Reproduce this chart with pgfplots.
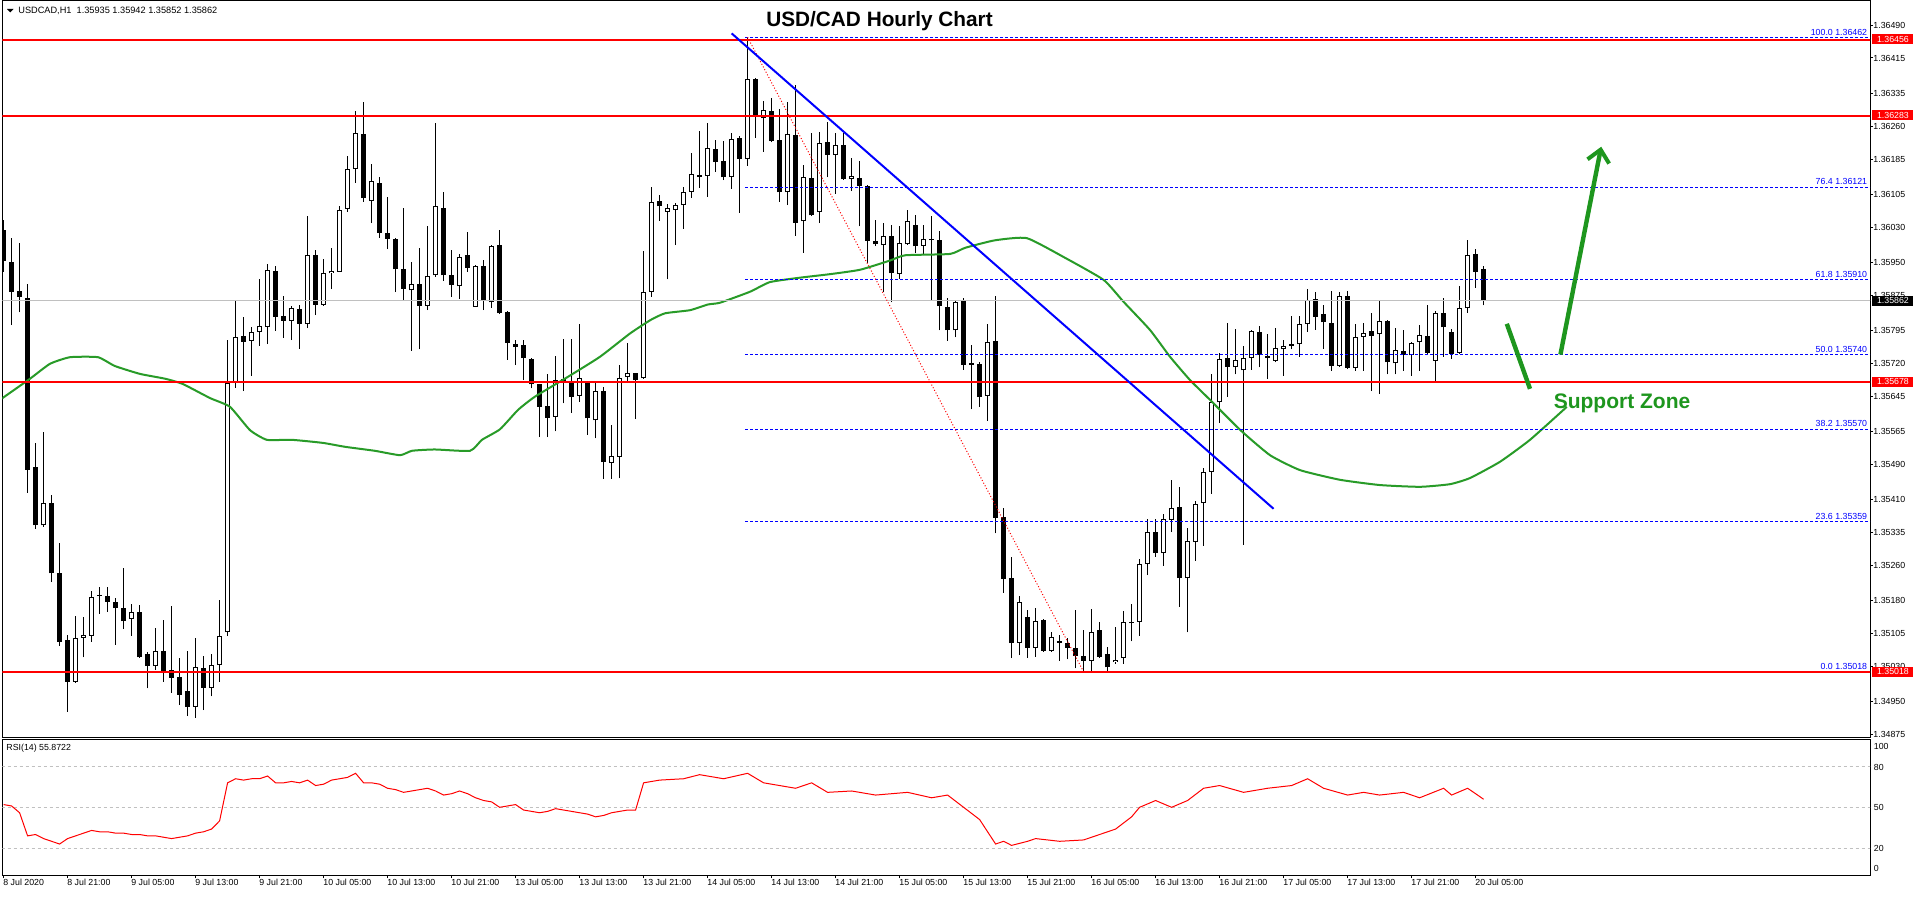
\documentclass[border=0pt]{standalone}
\usepackage{pgfplots}
\pgfplotsset{compat=1.18}
\usepackage{pgfplotstable}
\usepackage{fontspec}
\setmainfont{Liberation Sans}
\usetikzlibrary{arrows.meta}
\definecolor{magreen}{RGB}{40,155,40}
\definecolor{arrgreen}{RGB}{30,150,30}
\definecolor{lgray}{RGB}{192,192,192}
\newcommand\tk{\fontsize{4.4pt}{5pt}\selectfont}

\pgfplotstableread{
i o h l c
5 1.35351 1.35564 1.35348 1.35402
9 1.34995 1.35145 1.34993 1.35096
10 1.35096 1.35143 1.35051 1.35102
11 1.35100 1.35202 1.35086 1.35188
12 1.35190 1.35210 1.35150 1.35193
16 1.35139 1.35173 1.35100 1.35153
19 1.35031 1.35118 1.35023 1.35065
24 1.34938 1.35096 1.34913 1.35029
26 1.34982 1.35059 1.34962 1.35033
27 1.35033 1.35181 1.34995 1.35099
28 1.35108 1.35773 1.35099 1.35676
29 1.35676 1.35862 1.35665 1.35781
31 1.35772 1.35802 1.35692 1.35791
32 1.35791 1.35912 1.35760 1.35805
33 1.35803 1.35946 1.35764 1.35933
36 1.35817 1.35851 1.35773 1.35845
38 1.35809 1.36055 1.35800 1.35967
40 1.35853 1.35958 1.35851 1.35925
41 1.35925 1.35983 1.35889 1.35930
42 1.35929 1.36078 1.35928 1.36069
43 1.36071 1.36192 1.36065 1.36162
44 1.36162 1.36294 1.36131 1.36245
46 1.36089 1.36174 1.36039 1.36135
51 1.35886 1.35951 1.35749 1.35901
53 1.35851 1.36033 1.35841 1.35919
54 1.35920 1.36268 1.35917 1.36078
57 1.35895 1.35969 1.35866 1.35962
59 1.35849 1.35944 1.35848 1.35942
61 1.35859 1.35989 1.35847 1.35987
69 1.35599 1.35737 1.35565 1.35682
72 1.35646 1.35810 1.35633 1.35686
74 1.35590 1.35675 1.35549 1.35657
76 1.35493 1.35580 1.35457 1.35509
77 1.35508 1.35716 1.35458 1.35686
78 1.35690 1.35766 1.35675 1.35697
80 1.35686 1.35976 1.35685 1.35883
81 1.35883 1.36121 1.35872 1.36087
83 1.36065 1.36083 1.35911 1.36073
84 1.36070 1.36086 1.35989 1.36080
85 1.36080 1.36122 1.36026 1.36109
86 1.36111 1.36198 1.36097 1.36150
88 1.36147 1.36268 1.36099 1.36210
91 1.36144 1.36244 1.36117 1.36231
93 1.36185 1.36462 1.36170 1.36367
95 1.36278 1.36318 1.36202 1.36296
98 1.36109 1.36315 1.36080 1.36243
100 1.36043 1.36172 1.35972 1.36145
102 1.36064 1.36247 1.36039 1.36221
104 1.36195 1.36244 1.36106 1.36217
106 1.36140 1.36187 1.36112 1.36146
110 1.35989 1.36039 1.35883 1.36009
112 1.35923 1.36032 1.35912 1.35995
113 1.35991 1.36070 1.35990 1.36044
115 1.35988 1.36036 1.35966 1.36003
119 1.35795 1.35861 1.35779 1.35859
123 1.35646 1.35810 1.35589 1.35769
127 1.35083 1.35191 1.35056 1.35178
129 1.35073 1.35163 1.35052 1.35134
131 1.35066 1.35108 1.35064 1.35098
136 1.35043 1.35160 1.35020 1.35108
139 1.35041 1.35119 1.35036 1.35046
140 1.35049 1.35157 1.35036 1.35131
142 1.35132 1.35274 1.35100 1.35263
143 1.35263 1.35366 1.35238 1.35336
145 1.35288 1.35377 1.35259 1.35365
146 1.35364 1.35455 1.35336 1.35390
148 1.35231 1.35345 1.35108 1.35315
149 1.35313 1.35407 1.35271 1.35399
150 1.35402 1.35481 1.35305 1.35473
151 1.35473 1.35695 1.35423 1.35631
152 1.35631 1.35744 1.35584 1.35729
154 1.35711 1.35798 1.35695 1.35727
155 1.35704 1.35760 1.35307 1.35732
156 1.35733 1.35796 1.35705 1.35794
159 1.35726 1.35800 1.35722 1.35754
160 1.35752 1.35773 1.35692 1.35759
162 1.35763 1.35828 1.35734 1.35809
163 1.35809 1.35889 1.35792 1.35864
167 1.35715 1.35882 1.35712 1.35873
169 1.35710 1.35810 1.35703 1.35779
170 1.35781 1.35811 1.35703 1.35790
172 1.35786 1.35862 1.35651 1.35816
174 1.35720 1.35800 1.35695 1.35750
176 1.35738 1.35769 1.35692 1.35766
177 1.35768 1.35807 1.35703 1.35784
179 1.35726 1.35839 1.35678 1.35834
182 1.35744 1.35895 1.35741 1.35845
183 1.35845 1.36001 1.35835 1.35966
}\bull

\pgfplotstableread{
i o h l c
0 1.36023 1.36047 1.35928 1.35952
1 1.35950 1.36006 1.35807 1.35883
2 1.35885 1.35994 1.35836 1.35872
3 1.35869 1.35901 1.35425 1.35478
4 1.35484 1.35539 1.35344 1.35351
6 1.35402 1.35421 1.35222 1.35242
7 1.35242 1.35311 1.35077 1.35086
8 1.35090 1.35102 1.34927 1.34995
13 1.35190 1.35212 1.35155 1.35177
14 1.35177 1.35185 1.35080 1.35163
15 1.35163 1.35254 1.35115 1.35133
17 1.35153 1.35169 1.35050 1.35051
18 1.35058 1.35064 1.34980 1.35031
20 1.35065 1.35136 1.34995 1.35019
21 1.35021 1.35168 1.34970 1.35004
22 1.35006 1.35050 1.34942 1.34966
23 1.34974 1.35066 1.34917 1.34939
25 1.35027 1.35055 1.34931 1.34982
30 1.35783 1.35825 1.35657 1.35769
34 1.35930 1.35942 1.35794 1.35826
35 1.35828 1.35873 1.35778 1.35817
37 1.35844 1.35853 1.35753 1.35810
39 1.35967 1.35978 1.35830 1.35853
45 1.36242 1.36315 1.36088 1.36096
47 1.36130 1.36144 1.36006 1.36017
48 1.36016 1.36099 1.35980 1.36004
49 1.36003 1.36005 1.35882 1.35934
50 1.35935 1.36074 1.35863 1.35890
52 1.35901 1.35983 1.35752 1.35851
55 1.36074 1.36110 1.35908 1.35920
56 1.35921 1.35978 1.35872 1.35899
58 1.35967 1.36019 1.35929 1.35938
60 1.35942 1.35955 1.35841 1.35865
62 1.35989 1.36024 1.35832 1.35834
63 1.35837 1.35839 1.35728 1.35766
64 1.35764 1.35773 1.35716 1.35757
65 1.35762 1.35773 1.35682 1.35732
66 1.35730 1.35732 1.35663 1.35672
67 1.35672 1.35674 1.35552 1.35621
68 1.35623 1.35696 1.35552 1.35596
70 1.35684 1.35775 1.35629 1.35675
71 1.35677 1.35775 1.35608 1.35644
73 1.35678 1.35680 1.35557 1.35595
75 1.35657 1.35667 1.35457 1.35495
79 1.35697 1.35699 1.35593 1.35681
82 1.36089 1.36103 1.36045 1.36077
87 1.36149 1.36249 1.36120 1.36145
89 1.36208 1.36228 1.36156 1.36179
90 1.36181 1.36226 1.36137 1.36143
92 1.36234 1.36237 1.36063 1.36186
94 1.36367 1.36369 1.36234 1.36281
96 1.36294 1.36323 1.36223 1.36226
97 1.36229 1.36299 1.36088 1.36109
99 1.36240 1.36354 1.36010 1.36040
101 1.36142 1.36245 1.36056 1.36057
103 1.36224 1.36270 1.36143 1.36195
105 1.36216 1.36245 1.36138 1.36139
107 1.36142 1.36180 1.36032 1.36123
108 1.36123 1.36125 1.35949 1.35999
109 1.35998 1.36046 1.35987 1.35991
111 1.36010 1.36034 1.35859 1.35925
114 1.36036 1.36058 1.35971 1.35986
116 1.36004 1.36056 1.35863 1.36000
117 1.36001 1.36022 1.35795 1.35850
118 1.35849 1.35868 1.35772 1.35795
120 1.35864 1.35868 1.35706 1.35717
121 1.35720 1.35762 1.35615 1.35717
122 1.35719 1.35722 1.35621 1.35643
124 1.35771 1.35873 1.35333 1.35369
125 1.35370 1.35390 1.35198 1.35230
126 1.35231 1.35280 1.35049 1.35083
128 1.35143 1.35159 1.35050 1.35073
130 1.35136 1.35138 1.35064 1.35066
132 1.35087 1.35102 1.35043 1.35084
133 1.35083 1.35094 1.35046 1.35073
134 1.35073 1.35159 1.35026 1.35055
135 1.35054 1.35113 1.35018 1.35043
137 1.35113 1.35131 1.35050 1.35052
138 1.35058 1.35074 1.35020 1.35028
141 1.35132 1.35172 1.35087 1.35129
144 1.35336 1.35366 1.35280 1.35288
147 1.35392 1.35438 1.35166 1.35231
153 1.35732 1.35811 1.35644 1.35712
157 1.35791 1.35805 1.35711 1.35739
158 1.35737 1.35787 1.35684 1.35732
161 1.35764 1.35828 1.35752 1.35760
164 1.35866 1.35882 1.35796 1.35826
165 1.35832 1.35853 1.35753 1.35813
166 1.35812 1.35885 1.35703 1.35715
168 1.35873 1.35885 1.35707 1.35710
171 1.35793 1.35834 1.35657 1.35783
173 1.35816 1.35818 1.35695 1.35722
175 1.35747 1.35796 1.35703 1.35738
178 1.35782 1.35853 1.35742 1.35744
180 1.35835 1.35869 1.35735 1.35802
181 1.35791 1.35798 1.35730 1.35741
184 1.35969 1.35980 1.35892 1.35929
185 1.35935 1.35942 1.35852 1.35862
}\bear

\begin{document}
\begin{tikzpicture}
\useasboundingbox (0,0) rectangle (958pt,448pt);
\fill[white] (0,0) rectangle (958pt,448pt);
\begin{axis}[
  at={(1.25pt,79.5pt)}, anchor=south west,
  scale only axis, width=933.75pt, height=368pt,
  xmin=-0.1375, xmax=233.3,
  ymin=1.348696, ymax=1.365447,
  axis line style={line width=0.5pt, black},
  xtick=\empty,
  scaled y ticks=false,
  ytick={1.36490,1.36415,1.36335,1.36260,1.36185,1.36105,1.36030,1.35950,1.35875,1.35795,1.35720,1.35645,1.35565,1.35490,1.35410,1.35335,1.35260,1.35180,1.35105,1.35030,1.34950,1.34875},
  yticklabels={1.36490,1.36415,1.36335,1.36260,1.36185,1.36105,1.36030,1.35950,1.35875,1.35795,1.35720,1.35645,1.35565,1.35490,1.35410,1.35335,1.35260,1.35180,1.35105,1.35030,1.34950,1.34875},
  ytick pos=right, yticklabel pos=right,
  tick align=outside, major tick length=1.5pt,
  tick style={line width=0.5pt, black},
  yticklabel style={font=\tk, anchor=west, inner sep=0pt, xshift=0pt},
]
% wicks
\addplot[draw=none, mark=none, forget plot, error bars/.cd, y dir=plus, y explicit, error mark=none, error bar style={draw=black, solid, line width=0.5pt}]
  table[x=i, y=l, y error plus expr=\thisrow{h}-\thisrow{l}] {\bull};
\addplot[draw=none, mark=none, forget plot, error bars/.cd, y dir=plus, y explicit, error mark=none, error bar style={draw=black, solid, line width=0.5pt}]
  table[x=i, y=l, y error plus expr=\thisrow{h}-\thisrow{l}] {\bear};
% bull bodies
\addplot[draw=none, mark=none, forget plot, error bars/.cd, y dir=plus, y explicit, error mark=none, error bar style={draw=black, solid, line width=2.5pt}]
  table[x=i, y=o, y error plus expr=\thisrow{c}-\thisrow{o}] {\bull};
\addplot[draw=none, mark=none, forget plot, error bars/.cd, y dir=plus, y explicit, error mark=none, error bar style={draw=white, solid, line width=1.5pt}]
  table[x=i, y expr=\thisrow{o}+0.0000228, y error plus expr={max(\thisrow{c}-\thisrow{o}-0.0000456,0)}] {\bull};
% bear bodies
\addplot[draw=none, mark=none, forget plot, error bars/.cd, y dir=plus, y explicit, error mark=none, error bar style={draw=black, solid, line width=2.5pt}]
  table[x=i, y=c, y error plus expr=\thisrow{o}-\thisrow{c}] {\bear};
% moving average
\addplot[magreen, line width=1pt, smooth, tension=0.3] coordinates {
(-0.45,1.35637) (3.3,1.35685) (5.8,1.35719) (8.3,1.35734) (11.8,1.35734) (13.9,1.35714) (17.05,1.35696) (20.2,1.35685) (22.4,1.35673) (25.8,1.35641) (28.3,1.35621) (30.8,1.35568) (32.9,1.35546) (36,1.35546) (39.9,1.35539) (42.7,1.35530) (46.4,1.35521) (49.55,1.35511) (51.05,1.35521) (53.9,1.35524) (58.3,1.35521) (59.8,1.35546) (62.05,1.35570) (64.3,1.35614) (66.4,1.35644) (70.6,1.35690) (74.55,1.35735) (78.3,1.35788) (80.9,1.35819) (82.7,1.35834) (85.8,1.35841) (88.05,1.35854) (89.55,1.35858) (93.3,1.35883) (95.8,1.35905) (99.55,1.35915) (103.3,1.35923) (107.05,1.35933) (110.8,1.35954) (112.7,1.35966) (118.3,1.35969) (120.2,1.35983) (123.9,1.36000) (127.9,1.36005) (132.7,1.35960) (137.5,1.35910) (140,1.35860) (143.3,1.35796) (145.8,1.35735) (148.3,1.35682) (150.8,1.35637) (154.6,1.35568) (158.3,1.35511) (162.05,1.35477) (167.05,1.35455) (172.05,1.35443) (177.05,1.35439) (180.8,1.35445) (183.3,1.35459) (187.05,1.35496) (190.8,1.35546) (195.4,1.35621)};
% current price line
\addplot[lgray, line width=0.5pt] coordinates {(-1,1.35862) (240,1.35862)};
% fibonacci levels
\addplot[blue, line width=0.5pt, dash pattern=on 1.5pt off 1pt] coordinates {(92.7,1.36462) (240,1.36462)};
\addplot[blue, line width=0.5pt, dash pattern=on 1.5pt off 1pt] coordinates {(92.7,1.36121) (240,1.36121)};
\addplot[blue, line width=0.5pt, dash pattern=on 1.5pt off 1pt] coordinates {(92.7,1.35910) (240,1.35910)};
\addplot[blue, line width=0.5pt, dash pattern=on 1.5pt off 1pt] coordinates {(92.7,1.35740) (240,1.35740)};
\addplot[blue, line width=0.5pt, dash pattern=on 1.5pt off 1pt] coordinates {(92.7,1.35570) (240,1.35570)};
\addplot[blue, line width=0.5pt, dash pattern=on 1.5pt off 1pt] coordinates {(92.7,1.35359) (240,1.35359)};
% red support / resistance
\addplot[red, line width=1pt] coordinates {(-1,1.36456) (240,1.36456)};
\addplot[red, line width=1pt] coordinates {(-1,1.36283) (240,1.36283)};
\addplot[red, line width=1pt] coordinates {(-1,1.35678) (240,1.35678)};
\addplot[red, line width=1pt] coordinates {(-1,1.35018) (240,1.35018)};
% fib trend (dotted)
\addplot[red, line width=0.5pt, dash pattern=on 0.5pt off 1pt] coordinates {(93,1.36462) (135,1.35018)};
% blue trend line
\addplot[blue, line width=1pt] coordinates {(91.0,1.36471) (158.75,1.35389)};
% green arrows
\addplot[arrgreen, line width=2.2pt] coordinates {(187.9,1.35810) (190.8,1.35662)};
\addplot[arrgreen, line width=2.2pt, -{Straight Barb[length=6pt,width=11pt,line width=2pt]}] coordinates {(194.6,1.35740) (199.7,1.36213)};
\end{axis}

\begin{axis}[
  at={(1.25pt,10.35pt)}, anchor=south west,
  scale only axis, width=933.75pt, height=68pt,
  xmin=-0.1375, xmax=233.3, ymin=0, ymax=100,
  axis line style={line width=0.5pt, black},
  ytick=\empty,
  xtick={0,8,...,184},
  xticklabels={8 Jul 2020,8 Jul 21:00,9 Jul 05:00,9 Jul 13:00,9 Jul 21:00,10 Jul 05:00,10 Jul 13:00,10 Jul 21:00,13 Jul 05:00,13 Jul 13:00,13 Jul 21:00,14 Jul 05:00,14 Jul 13:00,14 Jul 21:00,15 Jul 05:00,15 Jul 13:00,15 Jul 21:00,16 Jul 05:00,16 Jul 13:00,16 Jul 21:00,17 Jul 05:00,17 Jul 13:00,17 Jul 21:00,20 Jul 05:00},
  xtick pos=bottom, tick align=outside, major tick length=1.5pt,
  tick style={line width=0.5pt, black},
  xticklabel style={font=\tk, anchor=north west, inner sep=0pt, xshift=-0.3pt},
]
\addplot[lgray, line width=0.5pt, dash pattern=on 1.5pt off 1.5pt] coordinates {(-1,80) (240,80)};
\addplot[lgray, line width=0.5pt, dash pattern=on 1.5pt off 1.5pt] coordinates {(-1,50) (240,50)};
\addplot[lgray, line width=0.5pt, dash pattern=on 1.5pt off 1.5pt] coordinates {(-1,20) (240,20)};
\addplot[red, line width=0.5pt] coordinates {
(0,52) (1,51) (2,46) (3,29) (4,30) (5,27) (6,25) (7,23) (8,27) (9,29) (10,31) (11,33) (12,32) (13,32) (14,31) (15,31) (16,30) (17,30) (18,29) (19,29) (20,28) (21,27) (22,28) (23,29) (24,31) (25,32) (26,34) (27,40) (28,68) (29,71) (30,70) (31,71) (32,71) (33,73) (34,68) (35,68) (36,69) (37,68) (38,70) (39,66) (40,67) (41,70) (42,71) (43,72) (44,75) (45,68) (46,68) (47,67) (48,64) (49,63) (50,61) (51,62) (52,63) (53,64) (54,62) (55,59) (56,60) (57,62) (58,60) (59,57) (60,55) (61,54) (62,50) (63,51) (64,52) (65,48) (66,47) (67,46) (68,47) (69,49) (70,48) (71,47) (72,46) (73,45) (74,43) (75,44) (76,46) (77,47) (78,48) (79,48) (80,68) (82,70) (85,71) (87,74) (90,71) (93,75) (95,68) (97,66) (99,64) (101,68) (103,61) (106,62) (109,59) (113,61) (116,57) (118,59) (120,50) (122,41) (124,23) (125,25) (126,22) (128,25) (129,27) (132,25) (135,26) (137,30) (139,34) (141,43) (142,50) (144,55) (146,50) (148,55) (150,64) (152,66) (155,61) (158,64) (161,66) (163,71) (165,64) (168,59) (170,61) (172,59) (175,61) (177,57) (180,64) (181,59) (183,64) (184,60) (185,55.9)};
\end{axis}

\begin{scope}[x=0.5pt, y=-0.5pt, yshift=448pt]
% header
\fill[black] (7,9) -- (13.5,9) -- (10.25,12.5) -- cycle;
\node[anchor=west, inner sep=0pt, font=\fontsize{4.6pt}{5pt}\selectfont] at (18,10.7) {USDCAD,H1\ \ 1.35935 1.35942 1.35852 1.35862};
\node[anchor=west, inner sep=0pt, font=\tk] at (6,748.5) {RSI(14) 55.8722};
% title
\node[font=\fontsize{10.4pt}{12pt}\selectfont\bfseries] at (879.5,21) {USD/CAD Hourly Chart};
% fib labels
\foreach \yy/\tt in {38.3/100.0 1.36462, 187.3/76.4 1.36121, 280/61.8 1.35910, 355/50.0 1.35740, 429.3/38.2 1.35570, 522/23.6 1.35359, 671.7/0.0 1.35018}{
  \node[anchor=south east, inner sep=0pt, text=blue, font=\tk] at (1867.5,\yy-2) {\tt};
}
% right price boxes
\foreach \yy/\tt in {39.5/1.36456, 115.5/1.36283, 381.7/1.35678, 671.7/1.35018}{
  \node[anchor=west, fill=red, text=white, inner sep=0pt, minimum width=20.5pt, minimum height=5pt, font=\tk] at (1872,\yy) {\tt};
}
\node[anchor=west, fill=black, text=white, inner sep=0pt, minimum width=20.5pt, minimum height=5pt, font=\tk] at (1872,300.5) {1.35862};
% RSI scale labels
\node[anchor=west, inner sep=0pt, font=\tk] at (1873.5,746) {100};
\node[anchor=west, inner sep=0pt, font=\tk] at (1873.5,767.3) {80};
\node[anchor=west, inner sep=0pt, font=\tk] at (1873.5,807.3) {50};
\node[anchor=west, inner sep=0pt, font=\tk] at (1873.5,848.3) {20};
\node[anchor=west, inner sep=0pt, font=\tk] at (1873.5,868.3) {0};
% support zone
\node[text=arrgreen, font=\fontsize{10.5pt}{12pt}\selectfont\bfseries] at (1622,403.4) {Support Zone};
\end{scope}
\end{tikzpicture}
\end{document}
